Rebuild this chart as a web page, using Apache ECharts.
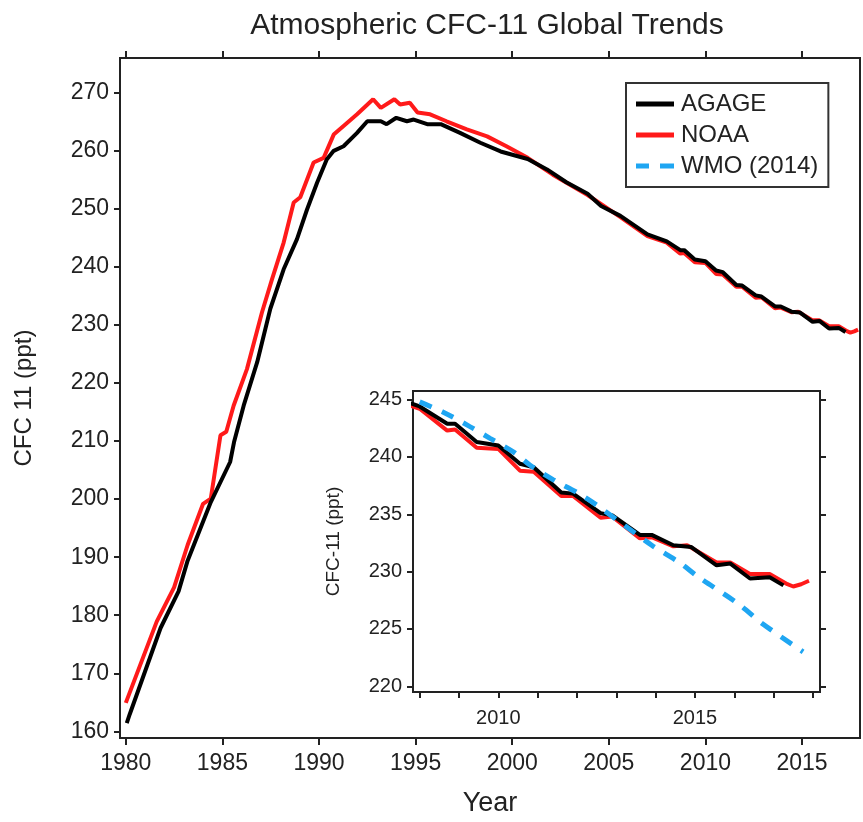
<!DOCTYPE html>
<html>
<head>
<meta charset="utf-8">
<script src="https://cdn.jsdelivr.net/npm/echarts@6/dist/echarts.min.js"></script>
<style>
html,body{margin:0;padding:0;background:#fff;}
#chart{width:863px;height:822px;}
</style>
</head>
<body>
<div id="chart"></div>
<script>
// ---- Data ----
var agageYears = [1980.05,1980.2,1981.8,1982.73,1983.2,1984.4,1985.4,1985.6,1986.1,1986.8,1987.48,1988.17,1988.86,1989.38,1989.9,1990.4,1990.76,1991.27,1991.97,1992.5,1993.2,1993.5,1994.0,1994.55,1994.9,1995.6,1996.3,1997.3,1998.35,1999.4,2000.8,2001.8,2002.8,2003.9,2004.6,2005.6,2007.0,
  2008.0,2008.7,2008.9,2009.45,2010.0,2010.55,2010.9,2011.6,2011.9,2012.6,2012.9,2013.6,2013.9,2014.45,2014.9,2015.55,2015.9,2016.4,2016.9,2017.25];
var agageValues = [161.4,162.9,177.8,184.1,189.4,199.5,206.4,209.8,216.1,223.6,232.8,239.6,244.8,249.9,254.5,258.5,260.0,260.8,263.1,265.1,265.1,264.6,265.7,265.1,265.4,264.6,264.6,263.1,261.4,259.9,258.6,256.8,254.6,252.6,250.5,248.8,245.6,
  244.4,242.9,242.9,241.3,241.0,239.4,239.1,236.9,236.8,235.1,234.9,233.2,233.2,232.3,232.15,230.55,230.7,229.4,229.5,228.8];

var noaaYears = [1980.0,1981.6,1982.5,1983.2,1984.0,1984.4,1984.9,1985.2,1985.58,1986.27,1987.05,1987.57,1988.17,1988.69,1989.03,1989.72,1990.24,1990.76,1991.27,1991.97,1992.8,1993.2,1993.9,1994.2,1994.7,1995.1,1995.75,1996.6,1997.65,1998.7,1999.7,2000.8,2002.1,2003.9,2005.6,2007.0,
  2008.0,2008.7,2008.9,2009.45,2010.0,2010.55,2010.9,2011.6,2011.9,2012.6,2012.9,2013.6,2013.9,2014.45,2014.8,2015.55,2015.9,2016.4,2016.9,2017.35,2017.5,2017.7,2017.9];
var noaaValues = [164.9,178.9,184.8,192.1,199.2,200.1,211.0,211.6,216.1,222.4,232.2,237.9,244.2,251.1,252.0,258.0,258.8,262.8,264.3,266.3,268.9,267.4,268.9,268.0,268.3,266.6,266.3,265.1,263.7,262.5,260.8,258.8,255.9,252.4,248.6,245.3,
  244.2,242.3,242.4,240.8,240.7,238.8,238.7,236.6,236.6,234.7,234.8,232.9,233.0,232.2,232.3,230.8,230.8,229.8,229.8,228.9,228.7,228.9,229.2];

var wmoYears = [2008.0,2008.6,2009.2,2009.8,2010.4,2010.8,2011.4,2012.0,2012.5,2013.9,2014.6,2015.1,2016.1,2016.7,2017.75];
var wmoValues = [244.8,243.9,242.8,241.6,240.4,239.3,238.0,236.9,235.8,232.3,230.8,229.5,227.2,225.5,223.0];

var mainXTicks = [1980,1985,1990,1995,2000,2005,2010,2015];
var mainYTicks = [160,170,180,190,200,210,220,230,240,250,260,270];
var insetXTicks = [2008,2009,2010,2011,2012,2013,2014,2015,2016,2017,2018];
var insetXLabels = [2010,2015];
var insetYTicks = [220,225,230,235,240,245];

function pairs(xs, ys){ var out=[]; for(var i=0;i<xs.length;i++){ out.push([xs[i], ys[i]]); } return out; }
function plain(v){ return String(Math.round(v)); }

var FONT = 'Liberation Sans, Arial, sans-serif';
var INK = '#222';
var RED = '#ff1a1a';
var BLUE = '#1fa6f2';
var SOLID_ICON = 'path://M0,0H38V5H0Z';
var DASH_ICON = 'path://M0,0H13V5H0Z M24,0H38V5H24Z';

var chart = echarts.init(document.getElementById('chart'), null, {renderer:'canvas'});

var axisLineStyle = {color: INK, width: 2};

chart.setOption({
  animation: false,
  backgroundColor: '#fff',
  title: {
    text: 'Atmospheric CFC-11 Global Trends',
    left: 482, top: 6, textAlign: 'center',
    textStyle: {fontFamily: FONT, fontSize: 30, fontWeight: 'normal', color: INK}
  },
  legend: {
    orient: 'vertical',
    left: 626, top: 83,
    padding: [9, 10, 9, 10],
    borderColor: '#333', borderWidth: 2,
    backgroundColor: '#fff',
    itemWidth: 38, itemHeight: 5, itemGap: 7,
    textStyle: {fontFamily: FONT, fontSize: 24, color: INK, padding: [0, 0, 0, 2]},
    data: [
      {name: 'AGAGE', icon: SOLID_ICON},
      {name: 'NOAA', icon: SOLID_ICON},
      {name: 'WMO (2014)', icon: DASH_ICON}
    ],
    z: 20
  },
  grid: [
    {left: 120, top: 58, width: 740, height: 682, show: true, borderColor: INK, borderWidth: 2, backgroundColor: 'transparent', containLabel: false},
    {left: 413, top: 391, width: 407, height: 301, show: true, borderColor: INK, borderWidth: 2, backgroundColor: '#fff', z: 5, containLabel: false}
  ],
  xAxis: [
    {gridIndex: 0, type: 'value', min: 1979.7, max: 2018.0, position: 'bottom',
     axisLine: {show: true, onZero: false, lineStyle: axisLineStyle},
     axisTick: {show: true, inside: false, length: 7, lineStyle: {color: INK, width: 2}, customValues: mainXTicks},
     axisLabel: {customValues: mainXTicks, formatter: plain, fontFamily: FONT, fontSize: 23, color: INK, margin: 14},
     splitLine: {show: false},
     name: 'Year', nameLocation: 'middle', nameGap: 52,
     nameTextStyle: {fontFamily: FONT, fontSize: 27, color: INK}},
    {gridIndex: 0, type: 'value', min: 1979.7, max: 2018.0, position: 'top',
     axisLine: {show: true, onZero: false, lineStyle: axisLineStyle},
     axisTick: {show: true, inside: false, length: 7, lineStyle: {color: INK, width: 2}, customValues: mainXTicks},
     axisLabel: {show: false}, splitLine: {show: false}},
    {gridIndex: 1, type: 'value', min: 2007.83, max: 2018.18, position: 'bottom', z: 6,
     axisLine: {show: true, onZero: false, lineStyle: axisLineStyle},
     axisTick: {show: true, inside: false, length: 6, lineStyle: {color: INK, width: 2}, customValues: insetXTicks},
     axisLabel: {customValues: insetXLabels, formatter: plain, fontFamily: FONT, fontSize: 20, color: INK, margin: 16},
     splitLine: {show: false}}
  ],
  yAxis: [
    {gridIndex: 0, type: 'value', min: 158.85, max: 276.0, position: 'left',
     axisLine: {show: true, onZero: false, lineStyle: axisLineStyle},
     axisTick: {show: true, inside: false, length: 6, lineStyle: {color: INK, width: 2}, customValues: mainYTicks},
     axisLabel: {customValues: mainYTicks, formatter: plain, fontFamily: FONT, fontSize: 23, color: INK, margin: 11},
     splitLine: {show: false},
     name: 'CFC 11 (ppt)', nameLocation: 'middle', nameGap: 84, nameRotate: 90,
     nameTextStyle: {fontFamily: FONT, fontSize: 24, color: INK}},
    {gridIndex: 1, type: 'value', min: 219.5, max: 245.75, position: 'left', z: 6,
     axisLine: {show: true, onZero: false, lineStyle: axisLineStyle},
     axisTick: {show: true, inside: false, length: 6, lineStyle: {color: INK, width: 2}, customValues: insetYTicks},
     axisLabel: {customValues: insetYTicks, formatter: plain, fontFamily: FONT, fontSize: 20, color: INK, margin: 11},
     splitLine: {show: false},
     name: 'CFC-11 (ppt)', nameLocation: 'middle', nameGap: 70, nameRotate: 90,
     nameTextStyle: {fontFamily: FONT, fontSize: 19, color: INK}},
    {gridIndex: 1, type: 'value', min: 219.5, max: 245.75, position: 'right', z: 6,
     axisLine: {show: true, onZero: false, lineStyle: axisLineStyle},
     axisTick: {show: true, inside: false, length: 6, lineStyle: {color: INK, width: 2}, customValues: insetYTicks},
     axisLabel: {show: false}, splitLine: {show: false}}
  ],
  series: [
    {name: 'NOAA', type: 'line', xAxisIndex: 0, yAxisIndex: 0, data: pairs(noaaYears, noaaValues),
     showSymbol: false, symbol: 'none', lineStyle: {color: RED, width: 4}, itemStyle: {color: RED}, z: 2},
    {name: 'AGAGE', type: 'line', xAxisIndex: 0, yAxisIndex: 0, data: pairs(agageYears, agageValues),
     showSymbol: false, symbol: 'none', lineStyle: {color: '#000', width: 4}, itemStyle: {color: '#000'}, z: 3},
    {name: 'NOAA', type: 'line', xAxisIndex: 2, yAxisIndex: 1, data: pairs(noaaYears, noaaValues),
     showSymbol: false, symbol: 'none', lineStyle: {color: RED, width: 4}, itemStyle: {color: RED}, z: 7, clip: true},
    {name: 'AGAGE', type: 'line', xAxisIndex: 2, yAxisIndex: 1, data: pairs(agageYears, agageValues),
     showSymbol: false, symbol: 'none', lineStyle: {color: '#000', width: 4}, itemStyle: {color: '#000'}, z: 8, clip: true},
    {name: 'WMO (2014)', type: 'line', xAxisIndex: 2, yAxisIndex: 1, data: pairs(wmoYears, wmoValues),
     showSymbol: false, symbol: 'none', smooth: 0.3,
     lineStyle: {color: BLUE, width: 5, type: [13, 11]}, itemStyle: {color: BLUE}, z: 9, clip: true}
  ]
});
</script>
</body>
</html>
